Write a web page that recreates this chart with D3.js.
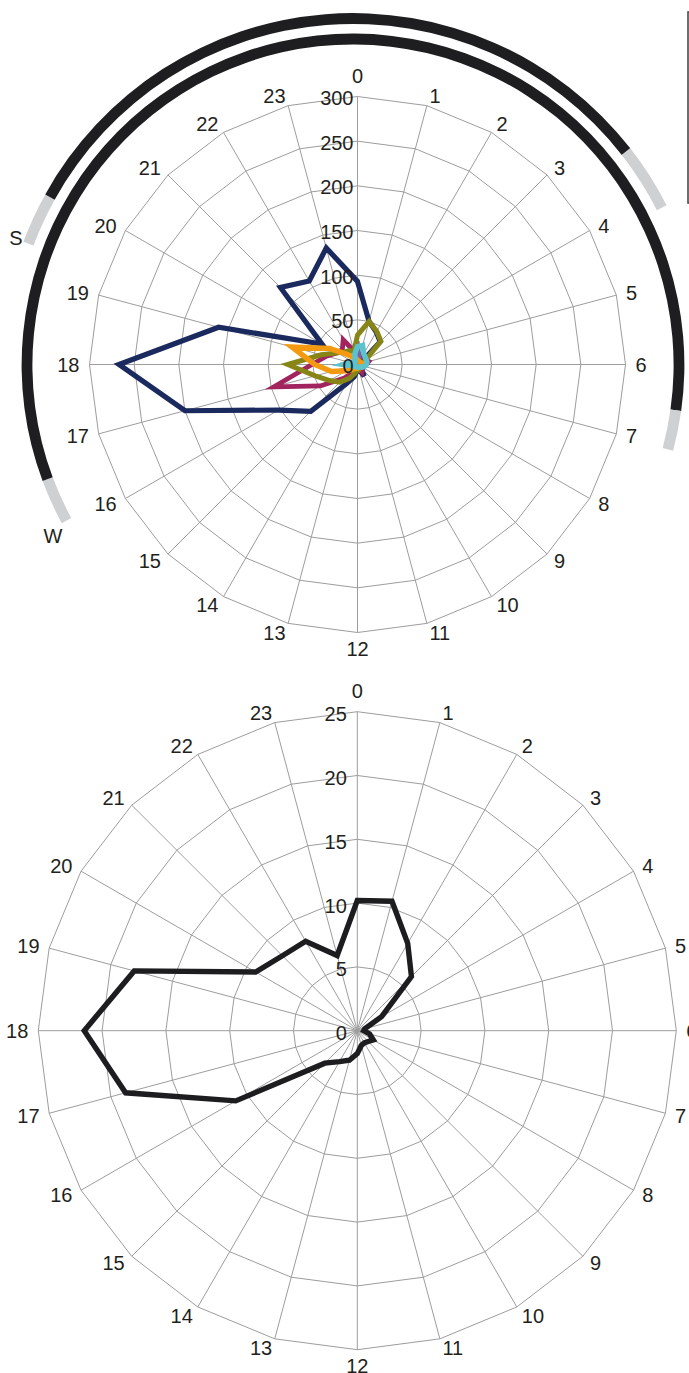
<!DOCTYPE html>
<html>
<head>
<meta charset="utf-8">
<script src="https://cdn.jsdelivr.net/npm/d3@7"></script>
<style>
  html, body { margin: 0; padding: 0; background: #fff; }
  svg { display: block; }
  text { font-family: "Liberation Sans", Arial, Helvetica, sans-serif; fill: #231f20; }
</style>
</head>
<body>
<svg id="chart" width="689" height="1373"></svg>
<script>
// Hour of day around each radar
const hours = ["0","1","2","3","4","5","6","7","8","9","10","11",
               "12","13","14","15","16","17","18","19","20","21","22","23"];

// Radial ticks
const upperTicks = [0, 50, 100, 150, 200, 250, 300];
const lowerTicks = [0, 5, 10, 15, 20, 25];

// Upper radar: counts per hour, one array per series
const seriesNavy    = [93, 50, 42, 36, 5, 3, 3, 3, 4, 6, 15, 6, 6, 14, 25, 74, 102, 200, 267, 161, 46, 122, 108, 135];
const seriesCrimson = [12, 12, 10, 12, 10, 13, 10, 8, 6, 8, 10, 5, 4, 6, 10, 22, 48, 97, 51, 36, 26, 24, 32, 16];
const seriesOlive   = [33, 50, 43, 37, 11, 5, 4, 3, 4, 5, 5, 6, 5, 10, 18, 28, 36, 49, 78, 42, 26, 20, 18, 15];
const seriesOrange  = [5, 4, 4, 4, 4, 5, 5, 4, 3, 3, 3, 3, 4, 4, 5, 8, 14, 30, 48, 76, 36, 16, 9, 7];
const seriesPurple  = [26, 8, 4, 3, 3, 3, 3, 3, 3, 3, 3, 3, 3, 3, 3, 3, 3, 4, 5, 4, 3, 3, 4, 8];
const seriesCyan    = [20, 22, 14, 12, 11, 11, 10, 8, 6, 4, 3, 3, 3, 3, 3, 3, 4, 6, 16, 9, 5, 4, 5, 12];

// Lower radar: single series
const seriesLower = [10.2, 10.5, 7.9, 6.0, 2.2, 0.6, 0.5, 1.0, 1.45, 1.2, 1.1, 1.2,
                     1.8, 2.4, 2.8, 3.6, 11.0, 18.8, 21.4, 18.1, 9.2, 8.3, 8.1, 6.1];

// Compass labels at the ends of the bands
const compassLabels = ["S", "W"];

const svg = d3.select("#chart");
const toRad = d => d * Math.PI / 180;

function radar(opt) {
  const g = svg.append("g").attr("transform", `translate(${opt.cx},${opt.cy})`);
  const r = d3.scaleLinear().domain([0, opt.max]).range([0, opt.R]);
  const a = d3.scaleLinear().domain([0, hours.length]).range([0, 2 * Math.PI]);
  const poly = d3.lineRadial()
    .angle((d, i) => a(i))
    .radius(d => r(d))
    .curve(d3.curveLinearClosed);

  // polygonal grid rings
  g.selectAll("path.ring")
    .data(opt.ticks.slice(1))
    .join("path")
    .attr("class", "ring")
    .attr("d", t => poly(hours.map(() => t)))
    .attr("fill", "none")
    .attr("stroke", "#9d9d9d")
    .attr("stroke-width", 1);

  // spokes
  g.selectAll("line.spoke")
    .data(hours)
    .join("line")
    .attr("class", "spoke")
    .attr("x1", 0).attr("y1", 0)
    .attr("x2", (d, i) => r(opt.max) * Math.sin(a(i)))
    .attr("y2", (d, i) => -r(opt.max) * Math.cos(a(i)))
    .attr("stroke", "#9d9d9d")
    .attr("stroke-width", 1);

  // data lines
  opt.series.forEach(s => {
    g.append("path")
      .attr("d", poly(s.values))
      .attr("fill", "none")
      .attr("stroke", s.color)
      .attr("stroke-width", s.width)
      .attr("stroke-linejoin", "miter")
      .attr("stroke-miterlimit", 6);
  });

  // radial tick labels along the 0 spoke
  g.selectAll("text.tick")
    .data(opt.ticks)
    .join("text")
    .attr("class", "tick")
    .attr("x", opt.tickDx)
    .attr("y", t => -r(t) + opt.tickDy)
    .attr("text-anchor", "end")
    .attr("dominant-baseline", "central")
    .attr("font-size", 20)
    .text(t => t);

  // hour labels: pushed sideways off each outer vertex, above/below at 0 and 12
  g.selectAll("text.hour")
    .data(hours)
    .join("text")
    .attr("class", "hour")
    .attr("text-anchor", "middle")
    .attr("dominant-baseline", "central")
    .attr("font-size", 20)
    .text(d => d)
    .each(function (d, i) {
      const ang = a(i);
      const sx = Math.sin(ang), cy = Math.cos(ang);
      const vx = opt.R * sx, vy = -opt.R * cy;
      const hw = this.getComputedTextLength() / 2;
      let x, y;
      if (Math.abs(sx) < 1e-6) {
        x = vx;
        y = cy > 0 ? vy - 21 : vy + 16.5;
      } else {
        x = vx + 10 * sx + Math.sign(sx) * hw;
        y = vy - 10 * cy;
      }
      d3.select(this).attr("x", x).attr("y", y);
    });
  return g;
}

// ---- upper radar ----
radar({
  cx: 357.5, cy: 364.5, R: 268, max: 300,
  ticks: upperTicks, tickDx: -4, tickDy: 1.5,
  series: [
    { values: seriesNavy,    color: "#1b2a5e", width: 5.2 },
    { values: seriesCrimson, color: "#a2245f", width: 4.8 },
    { values: seriesPurple,  color: "#7764a6", width: 4 },
    { values: seriesOlive,   color: "#878516", width: 5 },
    { values: seriesOrange,  color: "#f39a10", width: 5.4 },
    { values: seriesCyan,    color: "#5cc3cc", width: 5.4 }
  ]
});

// ---- compass bands around the upper radar (degrees clockwise from north) ----
const bandG = svg.append("g").attr("transform", "translate(353,365)");
const bands = [
  { r: 346.5, from: -69.5, to: -61,   color: "#cfd0d2" },
  { r: 346.5, from: -61,   to: 52,    color: "#1e1e21" },
  { r: 346.5, from: 52,    to: 63,    color: "#cfd0d2" },
  { r: 326,   from: -118.5, to: -110.5, color: "#cfd0d2" },
  { r: 326,   from: -110.5, to: 98,   color: "#1e1e21" },
  { r: 326,   from: 98,    to: 105,   color: "#cfd0d2" }
];
const bandArc = d3.arc()
  .innerRadius(d => d.r - 5.4)
  .outerRadius(d => d.r + 5.4)
  .startAngle(d => toRad(d.from))
  .endAngle(d => toRad(d.to));
bandG.selectAll("path")
  .data(bands)
  .join("path")
  .attr("d", bandArc)
  .attr("fill", d => d.color);

svg.selectAll("text.compass")
  .data(compassLabels)
  .join("text")
  .attr("class", "compass")
  .attr("x", (d, i) => [16, 53][i])
  .attr("y", (d, i) => [238, 536][i])
  .attr("text-anchor", "middle")
  .attr("dominant-baseline", "central")
  .attr("font-size", 20)
  .text(d => d);

// legend frame entering from the right edge
svg.append("rect")
  .attr("x", 688).attr("y", 12)
  .attr("width", 60).attr("height", 191)
  .attr("fill", "none")
  .attr("stroke", "#4a4a4a")
  .attr("stroke-width", 1.6);

// ---- lower radar ----
radar({
  cx: 357.3, cy: 1030.7, R: 319, max: 25,
  ticks: lowerTicks, tickDx: -10.5, tickDy: 2.5,
  series: [
    { values: seriesLower, color: "#1d1d1f", width: 5.4 }
  ]
});
</script>
</body>
</html>
